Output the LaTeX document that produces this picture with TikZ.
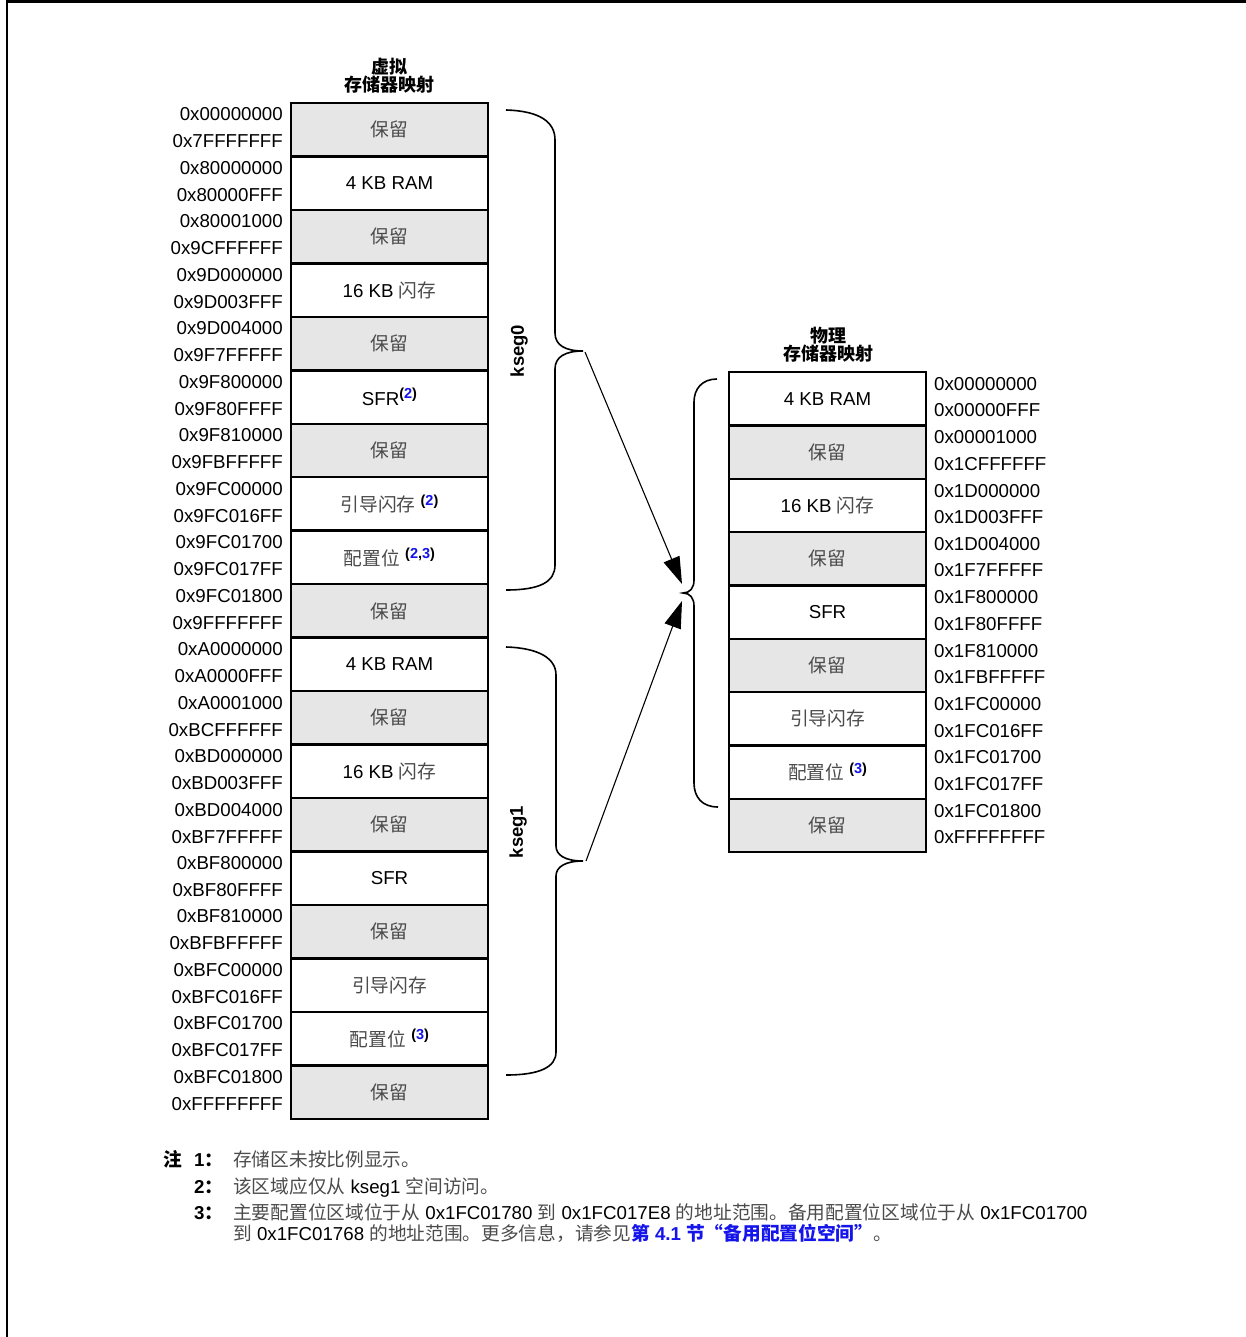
\documentclass[tikz,border=0pt]{standalone}
\usepackage{fontspec}
\setmainfont{Liberation Sans}
\newfontfamily\zhfont{Noto Sans CJK SC}
\usetikzlibrary{arrows.meta}
\definecolor{boxgray}{RGB}{230,230,230}
\definecolor{linkblue}{RGB}{20,20,235}
\definecolor{cjkgray}{RGB}{75,75,75}
\newcommand\zh[1]{{\zhfont\color{cjkgray}#1}}
\newcommand\zhb[1]{{\zhfont\bfseries #1}}
\newcommand\bl[1]{\textcolor{linkblue}{#1}}
\newcommand\nref[1]{\raisebox{6.5pt}{\fontsize{14.5}{15}\selectfont\bfseries(#1)}}
\newcommand\leftrow[6]{%
  \node[membox,#3,anchor=north west] (#1) at (291,{103+53.47*#2}) {#4};
  \node[addr,anchor=east] (#1t) at (283,{103+53.47*#2+11.5}) {#5};
  \node[addr,anchor=east] (#1b) at (283,{103+53.47*#2+38.5}) {#6};
}
\newcommand\rightrow[6]{%
  \node[membox,#3,anchor=north west] (#1) at (729,{372+53.35*#2}) {#4};
  \node[addr,anchor=west] (#1t) at (934,{372+53.35*#2+12}) {#5};
  \node[addr,anchor=west] (#1b) at (934,{372+53.35*#2+38.5}) {#6};
}
\begin{document}
\begin{tikzpicture}[x=1pt,y=-1pt,
  membox/.style={draw, line width=2.4pt, minimum width=197pt, minimum height=53.4pt,
    inner sep=0pt, outer sep=0pt, font=\fontsize{18.7}{22}\selectfont},
  gr/.style={fill=boxgray}, wh/.style={fill=white},
  addr/.style={inner sep=0pt, font=\fontsize{18.7}{22}\selectfont},
  title/.style={inner sep=0pt, align=center, font=\fontsize{18}{18}\selectfont},
  seglabel/.style={inner sep=0pt, rotate=90, font=\fontsize{18.5}{20}\selectfont\bfseries},
  brace/.style={line width=1.6pt},
  maparrow/.style={line width=1.1pt, -{Triangle[length=27pt,width=17pt]}},
  note/.style={inner sep=0pt, anchor=base west, font=\fontsize{18.7}{21}\selectfont},
  frame/.style={line width=2.5pt}]
\useasboundingbox (0,0) rectangle (1246,1337);
\draw[frame] (7,1337) -- (7,1.5) -- (1246,1.5);

% titles
\node[title] (vtitle) at (389,76) {\zhb{虚拟}\\\zhb{存储器映射}};
\node[title] (ptitle) at (828,345) {\zhb{物理}\\\zhb{存储器映射}};

% virtual memory map
\leftrow{L0}{0}{gr}{\zh{保留}}{0x00000000}{0x7FFFFFFF}
\leftrow{L1}{1}{wh}{4 KB RAM}{0x80000000}{0x80000FFF}
\leftrow{L2}{2}{gr}{\zh{保留}}{0x80001000}{0x9CFFFFFF}
\leftrow{L3}{3}{wh}{16 KB \zh{闪存}}{0x9D000000}{0x9D003FFF}
\leftrow{L4}{4}{gr}{\zh{保留}}{0x9D004000}{0x9F7FFFFF}
\leftrow{L5}{5}{wh}{SFR\nref{\bl{2}}}{0x9F800000}{0x9F80FFFF}
\leftrow{L6}{6}{gr}{\zh{保留}}{0x9F810000}{0x9FBFFFFF}
\leftrow{L7}{7}{wh}{\zh{引导闪存} \nref{\bl{2}}}{0x9FC00000}{0x9FC016FF}
\leftrow{L8}{8}{wh}{\zh{配置位} \nref{\bl{2},\bl{3}}}{0x9FC01700}{0x9FC017FF}
\leftrow{L9}{9}{gr}{\zh{保留}}{0x9FC01800}{0x9FFFFFFF}
\leftrow{L10}{10}{wh}{4 KB RAM}{0xA0000000}{0xA0000FFF}
\leftrow{L11}{11}{gr}{\zh{保留}}{0xA0001000}{0xBCFFFFFF}
\leftrow{L12}{12}{wh}{16 KB \zh{闪存}}{0xBD000000}{0xBD003FFF}
\leftrow{L13}{13}{gr}{\zh{保留}}{0xBD004000}{0xBF7FFFFF}
\leftrow{L14}{14}{wh}{SFR}{0xBF800000}{0xBF80FFFF}
\leftrow{L15}{15}{gr}{\zh{保留}}{0xBF810000}{0xBFBFFFFF}
\leftrow{L16}{16}{wh}{\zh{引导闪存}}{0xBFC00000}{0xBFC016FF}
\leftrow{L17}{17}{wh}{\zh{配置位} \nref{\bl{3}}}{0xBFC01700}{0xBFC017FF}
\leftrow{L18}{18}{gr}{\zh{保留}}{0xBFC01800}{0xFFFFFFFF}

% physical memory map
\rightrow{R0}{0}{wh}{4 KB RAM}{0x00000000}{0x00000FFF}
\rightrow{R1}{1}{gr}{\zh{保留}}{0x00001000}{0x1CFFFFFF}
\rightrow{R2}{2}{wh}{16 KB \zh{闪存}}{0x1D000000}{0x1D003FFF}
\rightrow{R3}{3}{gr}{\zh{保留}}{0x1D004000}{0x1F7FFFFF}
\rightrow{R4}{4}{wh}{SFR}{0x1F800000}{0x1F80FFFF}
\rightrow{R5}{5}{gr}{\zh{保留}}{0x1F810000}{0x1FBFFFFF}
\rightrow{R6}{6}{wh}{\zh{引导闪存}}{0x1FC00000}{0x1FC016FF}
\rightrow{R7}{7}{wh}{\zh{配置位} \nref{\bl{3}}}{0x1FC01700}{0x1FC017FF}
\rightrow{R8}{8}{gr}{\zh{保留}}{0x1FC01800}{0xFFFFFFFF}

% braces
\draw[brace] (506,110) .. controls (540,111) and (555,122) .. (555,140) -- (555,333)
  .. controls (555,345) and (565,351) .. (583,351)
  .. controls (565,351) and (555,357) .. (555,369) -- (555,565)
  .. controls (555,582) and (540,590) .. (506,590);
\draw[brace] (506,647) .. controls (540,648) and (556,659) .. (556,675) -- (556,846)
  .. controls (556,855) and (565,861) .. (583,861)
  .. controls (565,861) and (556,867) .. (556,876) -- (556,1052)
  .. controls (556,1067) and (540,1075) .. (506,1075);
\draw[brace] (717,379) .. controls (702,379) and (694,389) .. (694,402) -- (694,580)
  .. controls (694,588) and (690,593) .. (683,593)
  .. controls (690,593) and (694,598) .. (694,606) -- (694,783)
  .. controls (694,797) and (702,807) .. (718,807);

% segment labels
\node[seglabel] (kseg0) at (519,351) {kseg0};
\node[seglabel] (kseg1) at (518,832) {kseg1};

% mapping arrows
\coordinate (k0tip) at (585,352);
\coordinate (k1tip) at (586,861);
\coordinate (p0) at (682,584);
\coordinate (p1) at (682,601);
\draw[maparrow] (k0tip) -- (p0);
\draw[maparrow] (k1tip) -- (p1);

% notes
\node[note] (nz) at (163,1166.5) {\zhb{注}};
\node[note] (n1) at (194,1166.5) {\bfseries 1\zhb{：}};
\node[note] (t1) at (233,1166.5) {\zh{存储区未按比例显示。}};
\node[note] (n2) at (194,1193) {\bfseries 2\zhb{：}};
\node[note] (t2) at (233,1193) {\zh{该区域应仅从} kseg1 \zh{空间访问。}};
\node[note] (n3) at (194,1219.5) {\bfseries 3\zhb{：}};
\node[note] (t3) at (233,1219.5) {\zh{主要配置位区域位于从} 0x1FC01780 \zh{到} 0x1FC017E8 \zh{的地址范围。备用配置位区域位于从} 0x1FC01700};
\node[note] (t4) at (233,1240.5) {\zh{到} 0x1FC01768 \zh{的地址范围。更多信息，请参见}\bl{\bfseries{\zhfont 第} 4.1 {\zhfont 节“备用配置位空间”}}\zh{。}};
\end{tikzpicture}
\end{document}
